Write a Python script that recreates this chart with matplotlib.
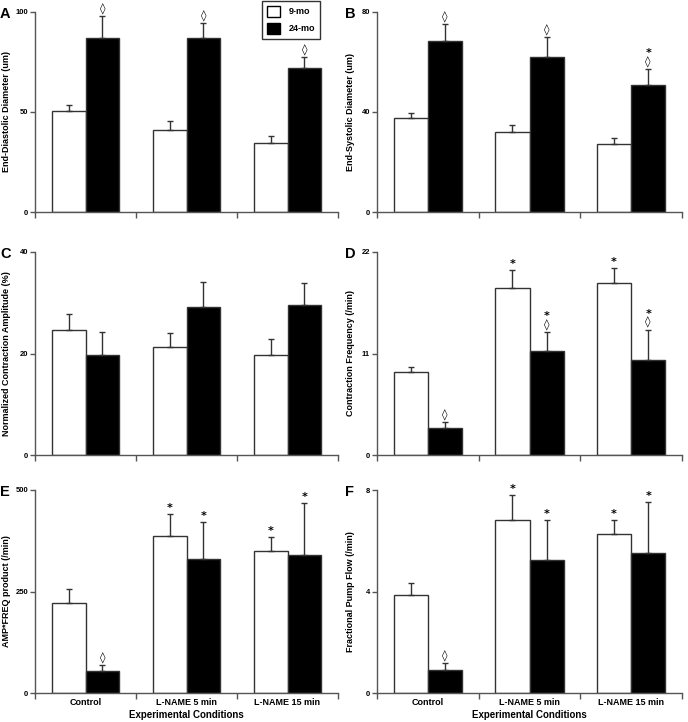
import matplotlib
matplotlib.use("Agg")
from matplotlib import pyplot as plt
from matplotlib.patches import Patch
import numpy as np

plt.rcParams['font.family'] = ['Liberation Sans', 'DejaVu Sans']
plt.rcParams['font.weight'] = 'bold'

conditions = ['Control', 'L-NAME 5 min', 'L-NAME 15 min']
groups = ['9-mo', '24-mo']

# panel data: means, upper error, markers
edd_young = [50.7, 41.0, 34.5]
edd_young_err = [3.0, 4.7, 3.5]
edd_old = [87.2, 87.0, 72.0]
edd_old_err = [10.6, 7.7, 5.5]
edd_young_mark = ['', '', '']
edd_old_mark = ['◊', '◊', '◊']

esd_young = [37.8, 32.1, 27.1]
esd_young_err = [2.0, 2.8, 2.4]
esd_old = [68.4, 61.9, 50.9]
esd_old_err = [6.7, 8.2, 6.3]
esd_young_mark = ['', '', '']
esd_old_mark = ['◊', '◊', '*\n◊']

amp_young = [24.6, 21.2, 19.7]
amp_young_err = [3.1, 2.8, 3.1]
amp_old = [19.7, 29.2, 29.6]
amp_old_err = [4.6, 4.9, 4.3]
amp_young_mark = ['', '', '']
amp_old_mark = ['', '', '']

freq_young = [8.98, 18.14, 18.64]
freq_young_err = [0.61, 1.95, 1.66]
freq_old = [2.96, 11.22, 10.28]
freq_old_err = [0.57, 2.16, 3.32]
freq_young_mark = ['', '*', '*']
freq_old_mark = ['◊', '*\n◊', '*\n◊']

af_young = [222, 387, 350]
af_young_err = [33, 55, 35]
af_old = [53, 330, 339]
af_old_err = [15, 91, 129]
af_young_mark = ['', '*', '*']
af_old_mark = ['◊', '*', '*']

fpf_young = [3.86, 6.82, 6.25]
fpf_young_err = [0.49, 0.97, 0.55]
fpf_old = [0.92, 5.25, 5.53]
fpf_old_err = [0.27, 1.55, 1.98]
fpf_young_mark = ['', '*', '*']
fpf_old_mark = ['◊', '*', '*']

panels = [
    ('A', 'End-Diastolic Diameter (um)', 100, [0, 50, 100],
     edd_young, edd_young_err, edd_old, edd_old_err, edd_young_mark, edd_old_mark),
    ('B', 'End-Systolic Diameter (um)', 80, [0, 40, 80],
     esd_young, esd_young_err, esd_old, esd_old_err, esd_young_mark, esd_old_mark),
    ('C', 'Normalized Contraction Amplitude (%)', 40, [0, 20, 40],
     amp_young, amp_young_err, amp_old, amp_old_err, amp_young_mark, amp_old_mark),
    ('D', 'Contraction Frequency (/min)', 22, [0, 11, 22],
     freq_young, freq_young_err, freq_old, freq_old_err, freq_young_mark, freq_old_mark),
    ('E', 'AMP*FREQ product (/min)', 500, [0, 250, 500],
     af_young, af_young_err, af_old, af_old_err, af_young_mark, af_old_mark),
    ('F', 'Fractional Pump Flow (/min)', 8, [0, 4, 8],
     fpf_young, fpf_young_err, fpf_old, fpf_old_err, fpf_young_mark, fpf_old_mark),
]

W, H = 688, 722
fig = plt.figure(figsize=(W / 100, H / 100), dpi=100)

# axes boxes in pixels: left, top, right, bottom
cols = [(35, 338), (377, 682)]
rows = [(12, 212), (252, 455), (490, 693)]

edge = '#333333'
x = np.arange(3)
bw = 0.335

for i, (letter, ylab, ymax, yt, yv, ye, ov, oe, ym, om) in enumerate(panels):
    l, r = cols[i % 2]
    t, b = rows[i // 2]
    ax = fig.add_axes([l / W, 1 - b / H, (r - l) / W, (b - t) / H])
    ax.bar(x - bw / 2, yv, bw, color='white', edgecolor=edge, linewidth=1.0, zorder=2)
    ax.bar(x + bw / 2, ov, bw, color='black', edgecolor=edge, linewidth=1.0, zorder=2)
    ax.errorbar(x - bw / 2, yv, yerr=[np.zeros(3), ye], fmt='none', ecolor=edge,
                elinewidth=1.0, capsize=2.5, capthick=1.0, zorder=3)
    ax.errorbar(x + bw / 2, ov, yerr=[np.zeros(3), oe], fmt='none', ecolor=edge,
                elinewidth=1.0, capsize=2.5, capthick=1.0, zorder=3)
    for j in range(3):
        if ym[j]:
            ax.text(x[j] - bw / 2, yv[j] + ye[j] + ymax * 0.005, ym[j], ha='center',
                    va='bottom', fontsize=8, linespacing=0.8, family=['DejaVu Sans'])
        if om[j]:
            ax.text(x[j] + bw / 2, ov[j] + oe[j] + ymax * 0.005, om[j], ha='center',
                    va='bottom', fontsize=8, linespacing=0.8, family=['DejaVu Sans'])
    ax.set_xlim(-0.5, 2.5)
    ax.set_ylim(0, ymax)
    ax.set_yticks(yt)
    ax.set_yticklabels([str(v) for v in yt], fontsize=5.5, fontweight='bold')
    ax.set_xticks(x)
    ax.set_xticks([-0.5, 0.5, 1.5, 2.5], minor=True)
    ax.tick_params(axis='x', which='major', length=0)
    ax.tick_params(axis='x', which='minor', length=4, color='#555555', width=1)
    ax.tick_params(axis='y', length=3.5, color='#555555', width=1, pad=1.5)
    for s in ['top', 'right']:
        ax.spines[s].set_visible(False)
    for s in ['left', 'bottom']:
        ax.spines[s].set_color('#555555')
        ax.spines[s].set_linewidth(1.0)
    ax.set_ylabel(ylab, fontsize=6.5, fontweight='bold')
    lab_x = 11 if i % 2 == 0 else 355
    ax.yaxis.set_label_coords((lab_x - l) / (r - l), 0.5)
    if i >= 4:
        ax.set_xticklabels(conditions, fontsize=6.5, fontweight='bold')
        ax.set_xlabel('Experimental Conditions', fontsize=7, fontweight='bold', labelpad=2)
    else:
        ax.set_xticklabels([])
    lx = 0 if i % 2 == 0 else 345
    fig.text(lx / W, 1 - (t + 2) / H, letter, fontsize=10.5, fontweight='bold',
             ha='left', va='center')
    if letter == 'A':
        handles = [Patch(facecolor='white', edgecolor='black', label=groups[0]),
                   Patch(facecolor='black', edgecolor='black', label=groups[1])]
        leg = fig.legend(handles=handles, loc='upper left',
                         bbox_to_anchor=(262 / W, 1 - 1 / H), frameon=True,
                         fancybox=False, edgecolor='black', prop={'size': 6.5, 'weight': 'bold'},
                         handlelength=1.5, handleheight=1.6, labelspacing=0.6,
                         borderpad=0.5, handletextpad=1.0, borderaxespad=0)
        leg.get_frame().set_linewidth(1.0)

fig.savefig('out.png', dpi=100)
